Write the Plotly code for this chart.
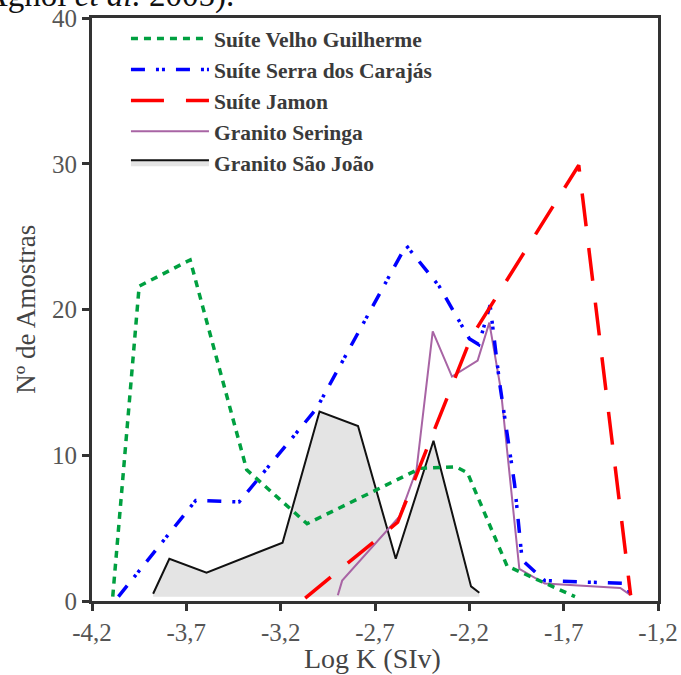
import plotly.graph_objects as go

# Magnetic susceptibility (Log K, SI volume) frequency curves per granite suite
vg_x = [-4.09, -3.95, -3.68, -3.38, -3.06, -2.46, -2.27, -2.21, -2.00, -1.80, -1.64]
vg_y = [0.3, 21.6, 23.4, 9.0, 5.3, 9.1, 9.2, 8.8, 2.4, 1.2, 0.3]

sc_x = [-4.06, -3.65, -3.42, -3.01, -2.535, -2.36, -2.20, -2.15, -2.09, -2.04, -1.96, -1.92, -1.80, -1.37, -1.345]
sc_y = [0.3, 6.9, 6.8, 13.2, 24.4, 21.6, 18.0, 17.6, 20.3, 15.0, 8.0, 2.8, 1.4, 1.2, 0.4]

jm_x = [-3.07, -2.58, -2.19, -1.62, -1.345]
jm_y = [0.2, 5.4, 18.1, 29.9, 0.4]

gs_x = [-2.897, -2.874, -2.57, -2.48, -2.394, -2.292, -2.156, -2.094, -2.033, -1.935, -1.80, -1.40, -1.345]
gs_y = [0.4, 1.4, 5.8, 9.0, 18.5, 15.4, 16.5, 19.1, 14.5, 2.2, 1.2, 0.9, 0.4]

sj_x = [-3.876, -3.79, -3.593, -3.19, -2.994, -2.79, -2.59, -2.39, -2.191, -2.147]
sj_y = [0.5, 2.9, 1.95, 4.0, 13.0, 12.0, 2.9, 11.0, 1.0, 0.57]
sj_base = 0.3

series_names = ["Suíte Velho Guilherme", "Suíte Serra dos Carajás", "Suíte Jamon",
                "Granito Seringa", "Granito São João"]

x_ticks = [-4.2, -3.7, -3.2, -2.7, -2.2, -1.7, -1.2]
x_ticktext = ["-4,2", "-3,7", "-3,2", "-2,7", "-2,2", "-1,7", "-1,2"]
y_ticks = [0, 10, 20, 30, 40]

SERIF = "Liberation Serif, Times New Roman, serif"
AXIS_COLOR = "#333333"

fig = go.Figure()

# baseline under the filled São João outline (no legend entry)
fig.add_trace(go.Scatter(
    x=[sj_x[0], sj_x[-1]], y=[sj_base, sj_base], mode="lines",
    line=dict(width=0, color="rgba(0,0,0,0)"), showlegend=False, hoverinfo="skip"))
fig.add_trace(go.Scatter(
    x=sj_x, y=sj_y, mode="lines", name=series_names[4], fill="tonexty",
    fillcolor="#e4e4e4", line=dict(color="#111111", width=2), legendrank=5))

fig.add_trace(go.Scatter(
    x=gs_x, y=gs_y, mode="lines", name=series_names[3],
    line=dict(color="#a864a4", width=2), legendrank=4))
fig.add_trace(go.Scatter(
    x=vg_x, y=vg_y, mode="lines", name=series_names[0],
    line=dict(color="#00a040", width=3.5, dash="7px,6px"), legendrank=1))
fig.add_trace(go.Scatter(
    x=sc_x, y=sc_y, mode="lines", name=series_names[1],
    line=dict(color="#0000ff", width=3.5, dash="14px,11px,3px,3px,3px,11px"), legendrank=2))
fig.add_trace(go.Scatter(
    x=jm_x, y=jm_y, mode="lines", name=series_names[2],
    line=dict(color="#ff0000", width=3.5, dash="33px,22px"), legendrank=3))

fig.update_layout(
    width=681, height=675,
    margin=dict(l=92, r=23, t=18, b=74),
    paper_bgcolor="white", plot_bgcolor="white",
    font=dict(family=SERIF, color="#444444", size=25),
    showlegend=True,
    legend=dict(
        x=0.060, y=1.0, xanchor="left", yanchor="top",
        traceorder="normal",
        bgcolor="rgba(0,0,0,0)", borderwidth=0,
        itemwidth=78, tracegroupgap=0,
        font=dict(family=SERIF, size=21.5, color="#3a3a3a", weight="bold"),
    ),
    xaxis=dict(
        range=[-4.2, -1.2], tickmode="array", tickvals=x_ticks, ticktext=x_ticktext,
        showgrid=False, zeroline=False, automargin=False,
        showline=True, mirror=True, linecolor=AXIS_COLOR, linewidth=3,
        ticks="outside", ticklen=7, tickwidth=3, tickcolor=AXIS_COLOR,
        tickfont=dict(family=SERIF, size=25, color="#555555"),
    ),
    yaxis=dict(
        range=[0, 40], tickmode="array", tickvals=y_ticks,
        showgrid=False, zeroline=False, automargin=False,
        showline=True, mirror=True, linecolor=AXIS_COLOR, linewidth=3,
        ticks="outside", ticklen=7, tickwidth=3, tickcolor=AXIS_COLOR,
        tickfont=dict(family=SERIF, size=25, color="#555555"),
    ),
    annotations=[
        dict(text="Log K (SIv)", xref="paper", yref="paper", x=0.495, y=-0.098,
             xanchor="center", yanchor="middle", showarrow=False,
             font=dict(family=SERIF, size=28, color="#444444")),
        dict(text="Nº de Amostras", xref="paper", yref="paper", x=-0.118, y=0.5,
             xanchor="center", yanchor="middle", textangle=-90, showarrow=False,
             font=dict(family=SERIF, size=27, color="#444444")),
        dict(text="Agnol <i>et al.</i> 2005).", xref="paper", yref="paper",
             x=-0.195, y=1.0034, xanchor="left", yanchor="bottom", showarrow=False,
             font=dict(family=SERIF, size=33, color="#111111")),
    ],
)

fig.write_html("out.html")
